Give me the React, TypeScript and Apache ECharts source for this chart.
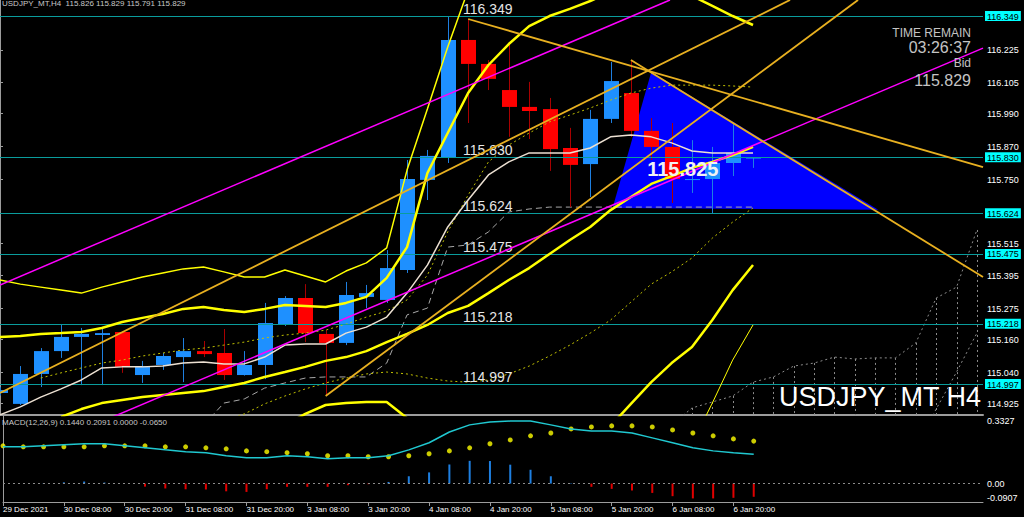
import React, { useEffect, useRef } from 'react';
import * as echarts from 'echarts';

const FONT = 'Liberation Sans, Arial, sans-serif';

// ---------- time axis (H4 bars) ----------
const barTimes = [
  '29 Dec 20:00', '30 Dec 00:00', '30 Dec 04:00', '30 Dec 08:00', '30 Dec 12:00', '30 Dec 16:00',
  '30 Dec 20:00', '31 Dec 00:00', '31 Dec 04:00', '31 Dec 08:00', '31 Dec 12:00', '31 Dec 16:00',
  '31 Dec 20:00', '3 Jan 00:00', '3 Jan 04:00', '3 Jan 08:00', '3 Jan 12:00', '3 Jan 16:00',
  '3 Jan 20:00', '4 Jan 00:00', '4 Jan 04:00', '4 Jan 08:00', '4 Jan 12:00', '4 Jan 16:00',
  '4 Jan 20:00', '5 Jan 00:00', '5 Jan 04:00', '5 Jan 08:00', '5 Jan 12:00', '5 Jan 16:00',
  '5 Jan 20:00', '6 Jan 00:00', '6 Jan 04:00', '6 Jan 08:00', '6 Jan 12:00', '6 Jan 16:00',
  '6 Jan 20:00', '7 Jan 00:00',
];
const tickBars = [0, 3, 6, 9, 12, 15, 18, 21, 24, 27, 30, 33, 36];
const tickLabels = [
  '29 Dec 2021', '30 Dec 08:00', '30 Dec 20:00', '31 Dec 08:00', '31 Dec 20:00', '3 Jan 08:00',
  '3 Jan 20:00', '4 Jan 08:00', '4 Jan 20:00', '5 Jan 08:00', '5 Jan 20:00', '6 Jan 08:00', '6 Jan 20:00',
];

// ---------- candles ----------
const open = [114.964, 114.924, 115.034, 115.118, 115.170, 115.177, 115.188, 115.030, 115.067, 115.096, 115.118, 115.111, 115.030, 115.067, 115.214, 115.313, 115.181, 115.148, 115.317, 115.306, 115.416, 115.747, 115.831, 116.261, 116.173, 116.077, 116.015, 116.007, 115.864, 115.805, 115.971, 116.066, 115.927, 115.868, 115.747, 115.750, 115.809, 115.826];
const high = [114.985, 115.063, 115.129, 115.214, 115.203, 115.203, 115.190, 115.082, 115.111, 115.166, 115.155, 115.199, 115.118, 115.295, 115.320, 115.364, 115.195, 115.372, 115.361, 115.489, 115.820, 115.857, 116.349, 116.338, 116.187, 116.250, 116.107, 116.048, 115.938, 116.004, 116.180, 116.187, 115.974, 115.956, 115.893, 115.868, 115.956, 115.829];
const low = [114.955, 114.920, 114.986, 115.093, 114.993, 114.993, 115.038, 115.001, 115.049, 115.004, 115.096, 115.012, 115.028, 115.015, 115.210, 115.151, 114.953, 115.140, 115.276, 115.295, 115.405, 115.673, 115.809, 115.956, 116.077, 115.905, 115.897, 115.780, 115.647, 115.684, 115.956, 115.905, 115.820, 115.662, 115.699, 115.625, 115.761, 115.791];
const close = [114.975, 115.034, 115.118, 115.170, 115.181, 115.184, 115.060, 115.063, 115.100, 115.118, 115.107, 115.030, 115.067, 115.221, 115.313, 115.184, 115.148, 115.324, 115.331, 115.423, 115.750, 115.835, 116.261, 116.173, 116.118, 116.015, 116.000, 115.860, 115.802, 115.971, 116.110, 115.927, 115.868, 115.750, 115.750, 115.809, 115.846, 115.829];

// ---------- horizontal levels & price axis ticks ----------
const levels = [116.349, 115.830, 115.624, 115.475, 115.218, 114.997];
const priceTicks = [116.225, 116.105, 115.990, 115.870, 115.750, 115.515, 115.395, 115.275, 115.160, 115.040, 114.925];
const levelLabelBar = 22.75;

// ---------- indicator lines (start bar + values) ----------
const upperBandStart = 0;
const upperBand = [115.379, 115.364, 115.353, 115.342, 115.331, 115.353, 115.372, 115.390, 115.405, 115.420, 115.427, 115.409, 115.390, 115.390, 115.416, 115.394, 115.372, 115.412, 115.442, 115.497, 115.783, 116.007, 116.235, 116.444];
const midBandStart = 0;
const midBand = [115.170, 115.173, 115.181, 115.184, 115.188, 115.203, 115.225, 115.240, 115.254, 115.273, 115.280, 115.269, 115.262, 115.273, 115.287, 115.284, 115.280, 115.295, 115.317, 115.387, 115.500, 115.772, 115.919, 116.066, 116.169, 116.246, 116.312, 116.349, 116.375, 116.404, 116.437, 116.452, 116.452, 116.437, 116.423, 116.386, 116.349, 116.316];
const lowBandStart = 3;
const lowBand = [114.876, 114.905, 114.927, 114.938, 114.949, 114.957, 114.964, 114.971, 114.986, 115.001, 115.023, 115.041, 115.060, 115.082, 115.096, 115.118, 115.151, 115.181, 115.214, 115.258, 115.284, 115.331, 115.379, 115.423, 115.475, 115.526, 115.574, 115.636, 115.684, 115.732, 115.761, 115.791, 115.813, 115.838, 115.868];
const lowBand2Start = 14;
const lowBand2 = [114.846, 114.887, 114.920, 114.927, 114.931, 114.931, 114.872, null, null, null, null, null, null, null, null, null, 114.843, 114.924, 115.004, 115.074, 115.133, 115.232, 115.342, 115.434];
const thinBandStart = 34;
const thinBand = [114.777, 114.927, 115.085, 115.214];
const whiteMAStart = 0;
const whiteMA = [114.884, 114.913, 114.949, 114.979, 115.012, 115.056, 115.060, 115.060, 115.063, 115.074, 115.078, 115.071, 115.071, 115.096, 115.140, 115.144, 115.144, 115.184, 115.206, 115.243, 115.331, 115.434, 115.574, 115.673, 115.765, 115.813, 115.846, 115.846, 115.846, 115.864, 115.905, 115.912, 115.905, 115.883, 115.853, 115.846, 115.846, 115.846];
const oliveMAStart = 2;
const oliveMA = [115.019, 115.038, 115.056, 115.074, 115.085, 115.100, 115.111, 115.122, 115.129, 115.140, 115.151, 115.166, 115.177, 115.184, 115.195, 115.217, 115.243, 115.265, 115.306, 115.397, 115.556, 115.691, 115.813, 115.875, 115.919, 115.960, 115.985, 116.011, 116.040, 116.066, 116.084, 116.095, 116.095, 116.095, 116.092, 116.088];
const oliveLowStart = 11;
const oliveLow = [114.865, 114.887, 114.924, 114.953, 114.979, 115.001, 115.019, 115.034, 115.041, 115.034, 115.019, 115.008, 115.004, 115.012, 115.034, 115.063, 115.100, 115.140, 115.184, 115.232, 115.298, 115.364, 115.409, 115.460, 115.533, 115.592, 115.644];
const kijunStart = 10;
const kijun = [114.846, 114.927, 114.942, 114.982, 115.001, 115.019, 115.023, 115.023, 115.023, 115.074, 115.251, 115.276, 115.500, 115.508, 115.556, 115.629, 115.640, 115.647, 115.647, 115.647, 115.647, 115.647, 115.647, 115.647, 115.647, 115.647, 115.647, 115.647];
const cloudTopStart = 33;
const cloudTop = [114.846, 114.909, 114.931, 114.953, 115.004, 115.023, 115.063, 115.074, 115.096, 115.089, 115.093, 115.093, 115.148, 115.313, 115.353, 115.563];
const cloudLowStart = 45;
const cloudLow = [114.769, 114.905, 115.041, 115.184];

// ---------- trend lines [bar, price] endpoints ----------
const magentaUpper = [[0, 115.361], [32.92, 116.408]];
const magentaLower = [[5, 114.859], [48.3, 116.231]];
const goldLine1 = [[0, 114.964], [38.82, 116.408]];
const goldLine2 = [[16, 114.953], [42.16, 116.408]];
const goldLine3 = [[23, 116.338], [48.3, 115.794]];
const goldLine4 = [[31, 116.187], [48.3, 115.390]];
const triangleBars = [32, 30.1, 43.15];
const trianglePrices = [116.143, 115.644, 115.637];
const triangleLabel = { bar: 33.55, price: 115.787, text: '115.825' };

// ---------- MACD(12,26,9) ----------
const macdMain = [0.181, 0.181, 0.186, 0.191, 0.196, 0.196, 0.186, 0.176, 0.166, 0.157, 0.152, 0.137, 0.127, 0.127, 0.137, 0.132, 0.122, 0.127, 0.127, 0.137, 0.166, 0.201, 0.254, 0.289, 0.303, 0.308, 0.308, 0.289, 0.269, 0.259, 0.259, 0.249, 0.225, 0.201, 0.176, 0.161, 0.152, 0.144];
const macdSignal = [0.186, 0.181, 0.181, 0.181, 0.181, 0.186, 0.186, 0.186, 0.181, 0.181, 0.176, 0.171, 0.161, 0.157, 0.152, 0.147, 0.137, 0.137, 0.132, 0.132, 0.137, 0.147, 0.161, 0.176, 0.196, 0.215, 0.235, 0.249, 0.269, 0.279, 0.284, 0.284, 0.279, 0.264, 0.249, 0.235, 0.220, 0.2091];
const macdHist = [0, 0, 0.002, 0.006, 0.010, 0.005, 0, -0.015, -0.024, -0.028, -0.029, -0.038, -0.041, -0.028, -0.016, -0.016, -0.016, -0.008, -0.003, 0.008, 0.036, 0.055, 0.094, 0.112, 0.111, 0.093, 0.068, 0.036, 0.002, -0.016, -0.026, -0.034, -0.046, -0.062, -0.073, -0.073, -0.070, -0.065];
const macdAxisValues = [0.3327, 0, -0.0907];
const macdAxisLabels = ['0.3327', '0.00', '-0.0907'];

// ---------- texts ----------
const headerText = 'USDJPY_MT,H4  115.826 115.829 115.791 115.829';
const macdText = 'MACD(12,26,9) 0.1440 0.2091 0.0000 -0.0650';
const timeRemainTitle = 'TIME REMAIN';
const timeRemain = '03:26:37';
const bidTitle = 'Bid';
const bidValue = '115.829';
const symbolText = 'USDJPY_MT H4';

// ---------- axis ranges ----------
const X_MIN = 0;
const X_MAX = 48.3;
const P_MIN = 114.8832;
const P_MAX = 116.4078;
const M_MIN = -0.0907;
const M_MAX = 0.3327;

const GOLD = '#e8b020';

function seq(start: number, vals: (number | null)[]) {
  return vals.map((v, k) => [start + k, v]);
}

export default function App() {
  const ref = useRef<HTMLDivElement>(null);

  useEffect(() => {
    const chart = echarts.init(ref.current!, null, { renderer: 'svg' });
    const candleData = open.map((o, i) => [i, o, high[i], low[i], close[i]]);
    const allPriceTicks = [...levels, ...priceTicks];
    const isLevel = (v: number) => levels.some((l) => Math.abs(l - v) < 1e-6);

    const lineS = (name: string, data: any[], color: string, width: number, type: any = 'solid', z = 5) => ({
      type: 'line', name, data, xAxisIndex: 0, yAxisIndex: 0, symbol: 'none', silent: true, z,
      connectNulls: false, lineStyle: { color, width, type },
    });

    const option: any = {
      animation: false,
      backgroundColor: '#000000',
      grid: [
        { left: 0, top: 0, width: 983, height: 415 },
        { left: 0, top: 416, width: 983, height: 86 },
      ],
      xAxis: [
        {
          type: 'value', gridIndex: 0, min: X_MIN, max: X_MAX,
          axisLine: { show: true, onZero: false, lineStyle: { color: '#9c9c9c', width: 2 } },
          axisTick: { show: false }, axisLabel: { show: false }, splitLine: { show: false },
        },
        {
          type: 'value', gridIndex: 1, min: X_MIN, max: X_MAX,
          axisLine: { show: true, onZero: false, lineStyle: { color: '#9c9c9c', width: 1 } },
          axisTick: { show: true, customValues: tickBars, length: 4, lineStyle: { color: '#9c9c9c' } },
          axisLabel: {
            show: true, customValues: tickBars, margin: 3, align: 'left',
            color: '#ffffff', fontSize: 8, fontFamily: FONT,
            formatter: (v: number) => {
              const k = tickBars.indexOf(Math.round(v));
              return k >= 0 ? tickLabels[k] : '';
            },
          },
          splitLine: { show: false },
        },
      ],
      yAxis: [
        {
          type: 'value', gridIndex: 0, position: 'right', min: P_MIN, max: P_MAX,
          axisLine: { show: true, lineStyle: { color: '#9c9c9c' } },
          axisTick: { show: true, customValues: allPriceTicks, length: 3, lineStyle: { color: '#9c9c9c' } },
          axisLabel: {
            customValues: allPriceTicks, margin: 2,
            formatter: (v: number) => (isLevel(v) ? `{hl|${v.toFixed(3)}}` : `{n|${v.toFixed(3)}}`),
            rich: {
              hl: { backgroundColor: '#00ffff', color: '#000000', fontSize: 9, fontFamily: FONT, padding: [1, 2, 0, 2], lineHeight: 10 },
              n: { color: '#ffffff', fontSize: 9, fontFamily: FONT, padding: [1, 2, 0, 2], lineHeight: 10 },
            },
          },
          splitLine: { show: false },
        },
        {
          type: 'value', gridIndex: 1, position: 'right', min: M_MIN, max: M_MAX,
          axisLine: { show: true, lineStyle: { color: '#9c9c9c' } },
          axisTick: { show: false },
          axisLabel: {
            customValues: macdAxisValues, margin: 2,
            formatter: (v: number) => {
              const k = macdAxisValues.findIndex((m) => Math.abs(m - v) < 1e-6);
              const key = k === 0 ? 't' : k === 1 ? 'z' : 'b';
              return `{${key}|${macdAxisLabels[k]}}`;
            },
            rich: {
              t: { color: '#ffffff', fontSize: 9, fontFamily: FONT, padding: [10, 0, 0, 2] },
              z: { color: '#ffffff', fontSize: 9, fontFamily: FONT, padding: [1, 0, 0, 2] },
              b: { color: '#ffffff', fontSize: 9, fontFamily: FONT, padding: [0, 0, 8, 2] },
            },
          },
          splitLine: { show: false },
        },
      ],
      series: [
        // blue triangle (background object)
        {
          type: 'custom', name: 'triangle', xAxisIndex: 0, yAxisIndex: 0, z: 1, silent: true, clip: true,
          data: [[triangleBars[0], trianglePrices[0]]], encode: { x: 0, y: 1 },
          renderItem: (params: any, api: any) => ({
            type: 'polygon',
            shape: { points: triangleBars.map((b, k) => api.coord([b, trianglePrices[k]])) },
            style: { fill: '#0000ff' },
          }),
        },
        lineS('kijun', seq(kijunStart, kijun), '#a8a8a8', 1, [6, 4], 2),
        lineS('cloudTop', seq(cloudTopStart, cloudTop), '#8c8c8c', 1, [2, 3], 2),
        lineS('cloudLow', seq(cloudLowStart, cloudLow), '#8c8c8c', 1, [2, 3], 2),
        {
          type: 'custom', name: 'cloudHatch', xAxisIndex: 0, yAxisIndex: 0, z: 2, silent: true, clip: true,
          data: seq(cloudTopStart, cloudTop).slice(1), encode: { x: 0, y: 1 },
          renderItem: (params: any, api: any) => {
            const p = api.coord([api.value(0), api.value(1)]);
            const bottom = params.coordSys.y + params.coordSys.height;
            if (p[1] >= bottom) return null;
            const x = Math.round(p[0]) + 0.5;
            return { type: 'line', shape: { x1: x, y1: p[1], x2: x, y2: bottom }, style: { stroke: '#8c8c8c', lineWidth: 1, lineDash: [2, 3] } };
          },
        },
        lineS('oliveMA', seq(oliveMAStart, oliveMA), '#c0c000', 1, [2, 3], 3),
        lineS('oliveLow', seq(oliveLowStart, oliveLow), '#c0c000', 1, [2, 3], 3),
        // candles
        {
          type: 'custom', name: 'USDJPY_MT', xAxisIndex: 0, yAxisIndex: 0, z: 3, silent: true, clip: true,
          data: candleData, encode: { x: 0, y: [1, 2, 3, 4] },
          renderItem: (params: any, api: any) => {
            const x = api.value(0), o = api.value(1), h = api.value(2), l = api.value(3), c = api.value(4);
            const pO = api.coord([x, o]), pC = api.coord([x, c]), pH = api.coord([x, h]), pL = api.coord([x, l]);
            const up = c >= o;
            const cx = Math.round(pO[0]);
            const top = Math.min(pO[1], pC[1]);
            const bh = Math.max(1, Math.abs(pO[1] - pC[1]));
            return {
              type: 'group',
              children: [
                { type: 'line', shape: { x1: cx + 0.5, y1: pH[1], x2: cx + 0.5, y2: pL[1] }, style: { stroke: up ? '#1e7fe0' : '#a80000', lineWidth: 1 } },
                { type: 'rect', shape: { x: cx - 7, y: top, width: 15, height: bh }, style: { fill: up ? '#1e90ff' : '#ff0000' } },
              ],
            };
          },
        },
        // horizontal levels with labels
        {
          type: 'custom', name: 'levels', xAxisIndex: 0, yAxisIndex: 0, z: 4, silent: true, clip: false,
          data: levels.map((l) => [levelLabelBar, l]), encode: { x: 0, y: 1 },
          renderItem: (params: any, api: any) => {
            const p = api.coord([api.value(0), api.value(1)]);
            const cs = params.coordSys;
            const y = Math.round(p[1]) + 0.5;
            return {
              type: 'group',
              children: [
                { type: 'line', shape: { x1: cs.x, y1: y, x2: cs.x + cs.width, y2: y }, style: { stroke: '#0a9c9c', lineWidth: 1 } },
                {
                  type: 'text', x: p[0], y: y - 1,
                  style: { text: api.value(1).toFixed(3), fill: '#e6e6e6', font: `14px ${FONT}`, textAlign: 'left', textVerticalAlign: 'bottom', align: 'left', verticalAlign: 'bottom' },
                },
              ],
            };
          },
        },
        lineS('whiteMA', seq(whiteMAStart, whiteMA), '#ece0d2', 1.5, 'solid', 5),
        lineS('upperBand', seq(upperBandStart, upperBand), '#ffff00', 1.5, 'solid', 5),
        lineS('midBand', seq(midBandStart, midBand), '#ffff00', 2.5, 'solid', 5),
        lineS('lowBand', seq(lowBandStart, lowBand), '#ffff00', 2.5, 'solid', 5),
        lineS('lowBand2', seq(lowBand2Start, lowBand2), '#ffff00', 2.5, 'solid', 5),
        lineS('thinBand', seq(thinBandStart, thinBand), '#ffff00', 1, 'solid', 5),
        lineS('magentaUpper', magentaUpper, '#ff00ff', 1.5, 'solid', 6),
        lineS('magentaLower', magentaLower, '#ff00ff', 1.5, 'solid', 6),
        lineS('gold1', goldLine1, GOLD, 1.8, 'solid', 6),
        lineS('gold2', goldLine2, GOLD, 1.8, 'solid', 6),
        lineS('gold3', goldLine3, GOLD, 1.8, 'solid', 6),
        lineS('gold4', goldLine4, GOLD, 1.8, 'solid', 6),
        {
          type: 'custom', name: 'triangleLabel', xAxisIndex: 0, yAxisIndex: 0, z: 7, silent: true, clip: false,
          data: [[triangleLabel.bar, triangleLabel.price]], encode: { x: 0, y: 1 },
          renderItem: (params: any, api: any) => {
            const p = api.coord([api.value(0), api.value(1)]);
            return {
              type: 'text', x: p[0], y: p[1],
              style: { text: triangleLabel.text, fill: '#f2f2f2', font: `bold 20px ${FONT}`, textAlign: 'center', textVerticalAlign: 'middle', align: 'center', verticalAlign: 'middle' },
            };
          },
        },
        // MACD panel
        {
          type: 'bar', name: 'OsMA', xAxisIndex: 1, yAxisIndex: 1, silent: true, barWidth: 2,
          data: macdHist.map((v, i) => [i, v]),
          itemStyle: { color: (p: any) => (p.value[1] >= 0 ? '#1e7fe0' : '#e00000') },
          markLine: {
            silent: true, symbol: 'none', label: { show: false },
            lineStyle: { color: '#8c8c8c', type: [2, 3], width: 1 },
            data: [{ yAxis: 0 }],
          },
        },
        {
          type: 'line', name: 'MACD', xAxisIndex: 1, yAxisIndex: 1, symbol: 'none', silent: true,
          data: macdMain.map((v, i) => [i, v]), lineStyle: { color: '#20c8d0', width: 1.5 },
        },
        {
          type: 'scatter', name: 'Signal', xAxisIndex: 1, yAxisIndex: 1, silent: true, symbolSize: 5,
          data: macdSignal.map((v, i) => [i, v]), itemStyle: { color: '#ffff00' },
        },
      ],
      graphic: [
        { type: 'text', x: 2, y: -1, z: 100, style: { text: headerText, fill: '#c8c8c8', font: `8px ${FONT}`, textAlign: 'left', textVerticalAlign: 'top' } },
        { type: 'text', x: 2, y: 418, z: 100, style: { text: macdText, fill: '#c8c8c8', font: `8px ${FONT}`, textAlign: 'left', textVerticalAlign: 'top' } },
        { type: 'text', x: 971, y: 27, z: 100, style: { text: timeRemainTitle, fill: '#c4c4c4', font: `12px ${FONT}`, textAlign: 'right', textVerticalAlign: 'top' } },
        { type: 'text', x: 971, y: 39, z: 100, style: { text: timeRemain, fill: '#c4c4c4', font: `16px ${FONT}`, textAlign: 'right', textVerticalAlign: 'top' } },
        { type: 'text', x: 971, y: 57, z: 100, style: { text: bidTitle, fill: '#c4c4c4', font: `12px ${FONT}`, textAlign: 'right', textVerticalAlign: 'top' } },
        { type: 'text', x: 971, y: 72, z: 100, style: { text: bidValue, fill: '#c4c4c4', font: `16px ${FONT}`, textAlign: 'right', textVerticalAlign: 'top' } },
        { type: 'text', x: 981, y: 383, z: 100, style: { text: symbolText, fill: '#ffffff', font: `27px ${FONT}`, textAlign: 'right', textVerticalAlign: 'top' } },
      ],
    };

    chart.setOption(option);
    return () => chart.dispose();
  }, []);

  return (
    <div
      ref={ref}
      data-times={barTimes.length}
      style={{ position: 'fixed', left: 0, top: 0, width: 1024, height: 517, background: '#000000' }}
    />
  );
}
